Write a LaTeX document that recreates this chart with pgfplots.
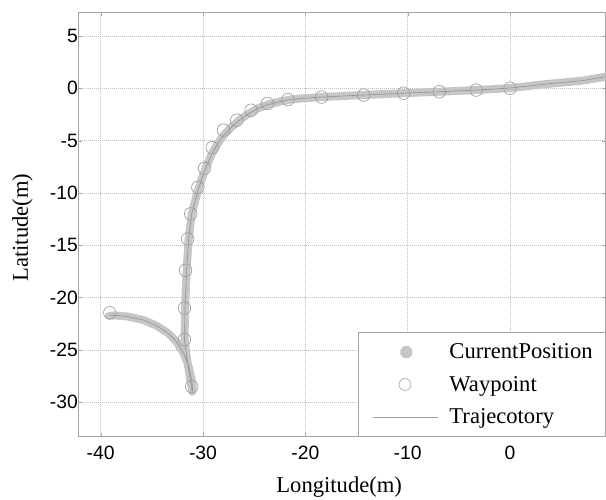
\documentclass[border=0pt]{standalone}
\usepackage{pgfplots}
\pgfplotsset{compat=1.18}
\usepackage{fontspec}
\setmainfont{Liberation Serif}
\newfontfamily\arialfont{Liberation Sans}

\definecolor{bandgray}{RGB}{198,198,198}
\definecolor{linegray}{RGB}{145,145,145}
\definecolor{circgray}{RGB}{160,160,160}
\definecolor{gridgray}{RGB}{190,190,190}
\definecolor{framegray}{RGB}{165,165,165}

\begin{document}
\begin{tikzpicture}
\path[use as bounding box] (-78.1pt,-63.3pt) rectangle (527.9pt,436.7pt);
\begin{axis}[
    at={(0pt,0pt)}, anchor=south west,
    scale only axis,
    width=527.4pt, height=424.4pt,
    xmin=-42.2, xmax=9.33,
    ymin=-33.29, ymax=7.26,
    xtick={-40,-30,-20,-10,0},
    ytick={-30,-25,-20,-15,-10,-5,0,5},
    grid=major,
    major grid style={gridgray, dash pattern=on 0.8pt off 1.2pt, line width=0.5pt},
    axis line style={framegray, line width=0.7pt},
    tick style={framegray},
    major tick length=4pt,
    tick align=inside,
    /pgf/number format/assume math mode=true,
    ticklabel style={font=\arialfont\fontsize{19.3}{20}\selectfont},
    xticklabel style={yshift=-5.5pt},
    yticklabel style={xshift=3.3pt},
    xlabel={Longitude(m)},
    ylabel={Latitude(m)},
    label style={font=\fontsize{22.6}{26}\selectfont},
    xlabel style={at={([xshift=-2.6pt,yshift=-56pt]axis description cs:0.5,0)}, anchor=base},
    ylabel style={at={([xshift=-50.3pt,yshift=-3pt]axis description cs:0,0.5)}, anchor=base, rotate=0},
    legend cell align=left,
    legend style={at={(1,0)}, anchor=south east, draw=framegray, fill=white,
        font=\fontsize{22.6}{26}\selectfont,
        inner xsep=10.7pt, inner ysep=9.3pt, row sep=12pt,
        /tikz/every odd column/.append style={column sep=5.5pt}},
]
% CurrentPosition (dense dots, drawn as a broad band)
\addplot[bandgray, line width=8pt, line cap=round, line join=round,
    legend image code/.code={\path (0pt,0pt) (64.6pt,0pt); \fill[bandgray] (33pt,0pt) circle (2.4pt);}]
coordinates {
(10.0,1.2) (7.0,0.72) (3.3,0.38) (0.0,0.02) (-3.3,-0.17) (-6.9,-0.33)
(-10.4,-0.47) (-14.3,-0.64) (-18.4,-0.84) (-20.5,-0.98) (-21.6,-1.1)
(-22.6,-1.3) (-23.6,-1.55) (-24.6,-1.9) (-25.5,-2.4) (-26.4,-3.0)
(-27.2,-3.7) (-27.9,-4.4) (-28.5,-5.2) (-29.1,-6.2) (-29.6,-7.3)
(-30.1,-8.6) (-30.5,-9.8) (-30.8,-10.9) (-31.1,-12.0) (-31.4,-14.4)
(-31.6,-17.4) (-31.75,-21.0) (-31.8,-24.0) (-31.6,-25.6) (-31.35,-27.2)
(-31.15,-28.4) (-31.05,-29.0) (-31.0,-28.6) (-31.15,-27.6) (-31.45,-26.4)
(-31.9,-25.3) (-32.6,-24.2) (-33.4,-23.4) (-34.5,-22.7) (-35.8,-22.15)
(-37.4,-21.8) (-38.6,-21.7) (-39.2,-21.75)
};
\addlegendentry{CurrentPosition}
% Waypoints
\addplot[only marks, mark=o, mark size=6.3pt, circgray, mark options={line width=0.7pt},
    legend image code/.code={\path (0pt,0pt) (64.6pt,0pt); \draw[circgray, line width=0.6pt] (31.6pt,0pt) circle (6pt);}]
coordinates {
(0.0,0.0) (-3.3,-0.17) (-6.9,-0.33) (-10.4,-0.47) (-14.3,-0.65)
(-18.4,-0.84) (-21.7,-1.08) (-23.7,-1.45) (-25.3,-2.1) (-26.7,-3.05)
(-28.0,-4.0) (-29.1,-5.68) (-29.85,-7.65) (-30.5,-9.47) (-31.2,-12.0)
(-31.5,-14.4) (-31.7,-17.4) (-31.8,-21.0) (-31.8,-24.0) (-31.1,-28.5)
(-39.1,-21.45)
};
\addlegendentry{Waypoint}
% Trajectory
\addplot[linegray, line width=0.6pt, line join=round,
    legend image code/.code={\draw[circgray, line width=0.5pt] (0pt,0pt) -- (64.6pt,0pt);}]
coordinates {
(10.0,1.2) (7.0,0.72) (3.3,0.38) (0.0,0.02) (-3.3,-0.17) (-6.9,-0.33)
(-10.4,-0.47) (-14.3,-0.64) (-18.4,-0.84) (-20.5,-0.98) (-21.6,-1.1)
(-22.6,-1.3) (-23.6,-1.55) (-24.6,-1.9) (-25.5,-2.4) (-26.4,-3.0)
(-27.2,-3.7) (-27.9,-4.4) (-28.5,-5.2) (-29.1,-6.2) (-29.6,-7.3)
(-30.1,-8.6) (-30.5,-9.8) (-30.8,-10.9) (-31.1,-12.0) (-31.4,-14.4)
(-31.6,-17.4) (-31.75,-21.0) (-31.8,-24.0) (-31.6,-25.6) (-31.35,-27.2)
(-31.15,-28.4) (-31.05,-29.0) (-31.0,-28.6) (-31.15,-27.6) (-31.45,-26.4)
(-31.9,-25.3) (-32.6,-24.2) (-33.4,-23.4) (-34.5,-22.7) (-35.8,-22.15)
(-37.4,-21.8) (-38.6,-21.7) (-39.2,-21.75)
};
\addlegendentry{Trajecotory}
\end{axis}
\end{tikzpicture}
\end{document}
